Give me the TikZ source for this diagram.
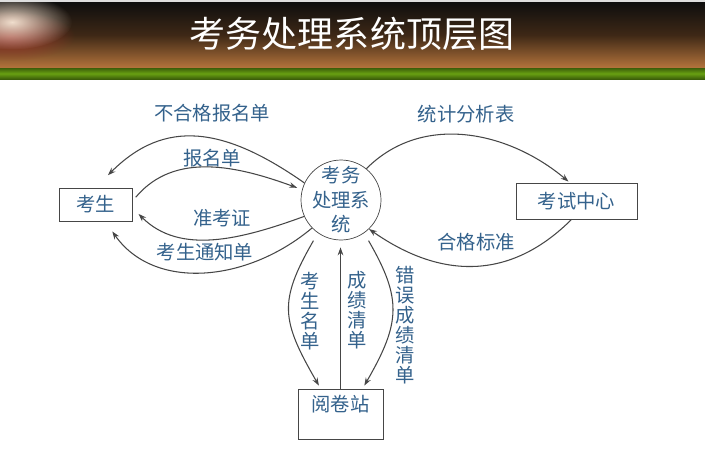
\documentclass[tikz,border=0pt]{standalone}
\usepackage{fontspec}
\newfontfamily\cjk{Noto Sans CJK SC}
\usetikzlibrary{arrows.meta,positioning,fadings}
\definecolor{txtblue}{RGB}{52,98,140}
\definecolor{linegray}{RGB}{70,70,70}
\definecolor{hdtop}{RGB}{14,14,14}
\definecolor{hdmid}{RGB}{62,40,22}
\definecolor{hdbot}{RGB}{180,116,60}
\definecolor{grnlight}{RGB}{104,160,18}
\definecolor{grndark}{RGB}{60,94,10}
\definecolor{stripgray}{RGB}{222,222,222}
\definecolor{spotcream}{RGB}{240,222,205}
\definecolor{spotred}{RGB}{150,50,40}
\tikzfading[name=softspot, inner color=transparent!0, outer color=transparent!100]

\begin{document}
\begin{tikzpicture}[x=0.02cm, y=0.02cm,
  ent/.style={draw=linegray, rectangle, font=\cjk\fontsize{11}{13}\selectfont, text=txtblue, inner sep=0pt},
  proc/.style={draw=linegray, circle, minimum size=1.6cm, inner sep=-3pt, align=center, font=\cjk\fontsize{11}{14}\selectfont, text=txtblue},
  flow/.style={draw=linegray, line width=0.6pt, -{Stealth[length=4.5pt,width=3.2pt]}},
  lab/.style={font=\cjk\fontsize{11}{13}\selectfont, text=txtblue, inner sep=1pt},
  vlab/.style={lab, align=center, font=\cjk\fontsize{11}{11.4}\selectfont},
]
\useasboundingbox (0,0) rectangle (705,468);
\fill[white] (0,0) rectangle (705,468);

% header band
\fill[stripgray] (0,466) rectangle (705,468);
\shade[top color=hdtop, bottom color=hdbot, middle color=hdmid] (0,400) rectangle (705,466);
\begin{scope}
  \clip (0,400) rectangle (705,466);
  \fill[spotred, path fading=softspot] (10,432) ellipse (1.3cm and 0.5cm);
  \fill[spotcream, path fading=softspot] (12,446) ellipse (1.2cm and 0.55cm);
\end{scope}
\shade[top color=grndark, bottom color=grndark, middle color=grnlight] (0,389) rectangle (705,400);
\node[font=\cjk\fontsize{20.5}{24}\selectfont, text=white] (title) at (352,434) {考务处理系统顶层图};

% entities and process
\node[ent, minimum width=1.46cm, minimum height=0.66cm] (stu) at (95.5,263.5) {考生};
\node[proc] (sys) at (341,268) {考务\\处理系\\统};
\node[ent, minimum width=2.42cm, minimum height=0.72cm] (exam) at (576.5,267) {考试中心};
\node[ent, minimum width=1.7cm, text height=9pt, text depth=11.5pt, inner ysep=4pt] (read) at (340.5,54) {阅卷站};

% flow labels
\node[lab] (lbad) at (212,355) {不合格报名单};
\node[lab] (lapply) at (212,310) {报名单};
\node[lab] (ladmit) at (222,250) {准考证};
\node[lab] (lnotice) at (205,216) {考生通知单};
\node[lab] (lstat) at (466,354) {统计分析表};
\node[lab] (lstd) at (476,226) {合格标准};
\node[vlab] (lnames) at (310,157) {考\\生\\名\\单};
\node[vlab] (lscore) at (357,158) {成\\绩\\清\\单};
\node[vlab] (lerr) at (405,143) {错\\误\\成\\绩\\清\\单};

% data flows
\draw[flow, shorten >=10pt] (sys.155) to[out=145, in=45, looseness=1.2] (stu.north);
\draw[flow, shorten <=3pt, shorten >=3pt] (stu.5) to[out=50, in=160] (sys.165);
\draw[flow, shorten >=5pt] (sys.204) to[out=200, in=-45] (stu.-5);
\draw[flow, shorten >=7pt] (sys.224) to[out=220, in=-55, looseness=1.05] (stu.-60);
\draw[flow, shorten >=1pt] (sys.51) to[out=45, in=140] (exam.110);
\draw[flow] (exam.-105) to[out=-135, in=-35, looseness=1.1] (sys.-46);
\draw[flow, shorten <=5pt, shorten >=2pt] (sys.235) to[out=240, in=120, looseness=1.3] (read.128);
\draw[flow, shorten >=4pt] (read.north) -- (read.north |- sys.south);
\draw[flow, shorten <=5pt, shorten >=2pt] (sys.-55) to[out=-60, in=60, looseness=1.25] (read.49);
\end{tikzpicture}
\end{document}
